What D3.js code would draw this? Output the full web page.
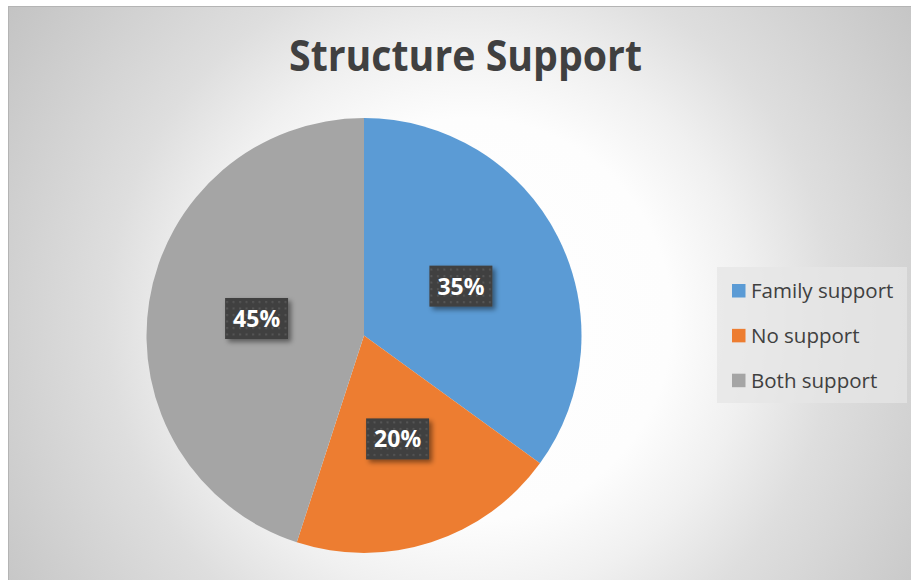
<!DOCTYPE html>
<html>
<head>
<meta charset="utf-8">
<script src="https://cdn.jsdelivr.net/npm/d3@7"></script>
<style>
  html, body { margin: 0; padding: 0; background: #ffffff; }
  svg { display: block; }
</style>
</head>
<body>
<svg id="chart" width="911" height="580"></svg>
<script>
// Chart data
const categories = ["Family support", "No support", "Both support"];
const values = [35, 20, 45];
const colors = ["#5b9bd5", "#ed7d31", "#a5a5a5"];
const titleText = "Structure Support";

const W = 911, H = 580;
const svg = d3.select("#chart");
const defs = svg.append("defs");

// Chart area background: radial grey-to-white gradient
const bg = defs.append("radialGradient")
  .attr("id", "bgGrad")
  .attr("gradientUnits", "userSpaceOnUse")
  .attr("cx", 470).attr("cy", 320).attr("r", 560);
[[0, "#ffffff"], [0.36, "#fdfdfd"], [0.5, "#f0f0f0"], [0.65, "#dedede"], [1, "#c3c3c3"]]
  .forEach(([o, c]) => bg.append("stop").attr("offset", o).attr("stop-color", c));

// Dotted texture for data label boxes
const pat = defs.append("pattern")
  .attr("id", "dots")
  .attr("patternUnits", "userSpaceOnUse")
  .attr("width", 6.5).attr("height", 6.5);
pat.append("rect").attr("width", 6.5).attr("height", 6.5).attr("fill", "#3f3f3f");
pat.append("rect").attr("x", 2).attr("y", 2).attr("width", 2).attr("height", 2).attr("fill", "#575757");

// Soft drop shadow for label boxes
const sh = defs.append("filter").attr("id", "shadow")
  .attr("x", "-30%").attr("y", "-30%").attr("width", "170%").attr("height", "170%");
sh.append("feDropShadow")
  .attr("dx", 3).attr("dy", 3).attr("stdDeviation", 2.5)
  .attr("flood-color", "#000").attr("flood-opacity", 0.45);

// Chart area frame
svg.append("rect")
  .attr("x", 8.5).attr("y", 6.5)
  .attr("width", W + 20).attr("height", H + 20)
  .attr("fill", "url(#bgGrad)")
  .attr("stroke", "#b4b4b4").attr("stroke-width", 1);

// Title
svg.append("text")
  .attr("x", 465.5).attr("y", 71)
  .attr("text-anchor", "middle")
  .attr("font-family", "'Open Sans', sans-serif")
  .attr("font-weight", 700)
  .attr("font-size", 43)
  .attr("fill", "#404040")
  .attr("textLength", 353)
  .attr("lengthAdjust", "spacingAndGlyphs")
  .text(titleText);

// Pie
const cx = 364, cy = 335.5, R = 217.5;
const pie = d3.pie().sort(null).value(d => d);
const arcs = pie(values);
const arc = d3.arc().innerRadius(0).outerRadius(R);

const g = svg.append("g").attr("transform", `translate(${cx},${cy})`);
g.selectAll("path.slice")
  .data(arcs)
  .join("path")
  .attr("class", "slice")
  .attr("d", arc)
  .attr("fill", (d, i) => colors[i]);

// Data labels in dark textured boxes
const fmt = d3.format(".0%");
const total = d3.sum(values);
const boxW = 63, boxH = 41;
const lbl = g.selectAll("g.lbl")
  .data(arcs)
  .join("g")
  .attr("class", "lbl")
  .attr("transform", d => { const [x, y] = arc.centroid(d); return `translate(${x},${y})`; });
lbl.append("rect")
  .attr("x", -boxW / 2).attr("y", -boxH / 2)
  .attr("width", boxW).attr("height", boxH)
  .attr("fill", "url(#dots)")
  .attr("filter", "url(#shadow)");
lbl.append("text")
  .attr("text-anchor", "middle")
  .attr("y", 8.5)
  .attr("font-family", "'Open Sans', sans-serif")
  .attr("font-weight", 700)
  .attr("font-size", 23)
  .attr("fill", "#ffffff")
  .text(d => fmt(d.value / total));

// Legend
const legend = svg.append("g");
legend.append("rect")
  .attr("x", 717).attr("y", 267)
  .attr("width", 190).attr("height", 136)
  .attr("fill", "#e6e6e6").attr("fill-opacity", 0.75);
const rowY = d3.scalePoint().domain(categories).range([291, 380.7]);
const items = legend.selectAll("g.item")
  .data(categories)
  .join("g")
  .attr("class", "item")
  .attr("transform", d => `translate(0,${rowY(d)})`);
items.append("rect")
  .attr("x", 732).attr("y", -7)
  .attr("width", 13.5).attr("height", 13.5)
  .attr("fill", (d, i) => colors[i]);
items.append("text")
  .attr("x", 751).attr("y", 7)
  .attr("font-family", "'Open Sans', sans-serif")
  .attr("font-size", 20.5)
  .attr("fill", "#404040")
  .text(d => d);
</script>
</body>
</html>
